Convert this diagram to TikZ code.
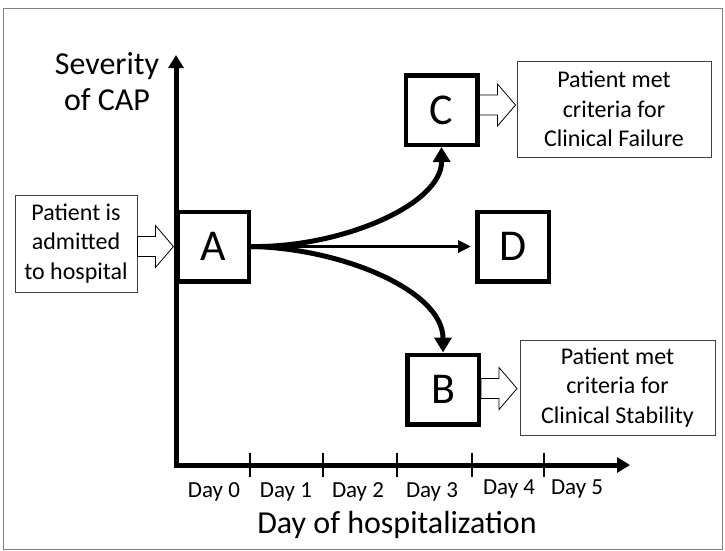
\documentclass[tikz,border=0pt]{standalone}
\usepackage{fontspec}
\setmainfont{Carlito}
\usetikzlibrary{arrows.meta,calc}
\begin{document}
\begin{tikzpicture}[x=1pt,y=-1pt,
  stage/.style={draw, line width=4.5pt, minimum width=71.5pt, minimum height=69.5pt,
    inner sep=0pt, font=\fontsize{44}{44}\selectfont},
  note/.style={draw=black!75, line width=0.9pt, align=center, inner sep=0pt,
    font=\fontsize{24}{29.5}\selectfont},
  axis/.style={line width=5pt, -{Triangle[length=13pt,width=15pt]}},
  branch/.style={line width=5pt, -{Triangle[length=15pt,width=17pt]}},
  straight/.style={line width=3.2pt, -{Triangle[length=13pt,width=12pt]}},
  tick/.style={line width=2.2pt},
  hollow/.style={draw=black, line width=0.8pt, fill=white, line join=miter},
  axislabel/.style={font=\fontsize{32}{36}\selectfont, align=center, inner sep=0pt},
  daylabel/.style={font=\fontsize{23}{23}\selectfont, inner sep=0pt, anchor=base},
]
% page area and thin outer frame
\useasboundingbox (0,0) rectangle (725,550);
\draw[black!50, line width=1pt] (3,8) rectangle (722.5,549);

% hollow block arrow starting at a point, pointing right
\newcommand\hollowarrow[1]{%
  \draw[hollow] (#1) ++(0,-10) -- ++(18,0) -- ++(0,-11) -- ++(18,21)
    -- ++(-18,21) -- ++(0,-11) -- ++(-18,0) -- cycle;}

% axes
\coordinate (O) at (176,465);
\coordinate (ytip) at (176,55);
\coordinate (xtip) at (630,465);
\draw[axis] ($(O)+(0,2.5)$) -- (ytip);
\draw[axis] ($(O)+(-2.5,0)$) -- (xtip);
\node[axislabel] (ylab) at (107,82) {Severity\\of CAP};
\node[axislabel, anchor=base] (xlab) at (397,533) {Day of hospitalization};

% day ticks and labels
\foreach \x/\n in {250/t1, 323/t2, 397/t3, 472/t4, 544/t5}{
  \coordinate (\n a) at (\x,453);
  \coordinate (\n b) at (\x,477);
  \draw[tick] (\n a) -- (\n b);
}
\node[daylabel] (d0) at (214,497) {Day 0};
\node[daylabel] (d1) at (286,497) {Day 1};
\node[daylabel] (d2) at (358,497) {Day 2};
\node[daylabel] (d3) at (432,497) {Day 3};
\node[daylabel] (d4) at (509,494) {Day 4};
\node[daylabel] (d5) at (577,494) {Day 5};

% stage boxes
\node[stage] (A) at (213,246.5) {A};
\node[stage] (C) at (441.5,110) {C};
\node[stage] (D) at (513,246.5) {D};
\node[stage] (B) at (443,389.5) {B};

% explanatory notes
\node[note, minimum width=122pt, minimum height=97pt] (adm) at (76,243.5)
  {Patient is\\admitted\\to hospital};
\node[note, minimum width=194pt, minimum height=96pt] (fail) at (614,109)
  {Patient met\\criteria for\\Clinical Failure};
\node[note, minimum width=195pt, minimum height=95pt] (stab) at (617.5,387.5)
  {Patient met\\criteria for\\Clinical Stability};

% hollow arrows into and out of the stages
\hollowarrow{adm.east |- A.west}
\hollowarrow{$(C.east)+(0,-5)$}
\hollowarrow{$(B.east)+(0,-1)$}

% transitions from A
\draw[straight] (A.east) -- ($(D.west)+(-4,0)$);
\draw[branch] (A.east) .. controls (340,248) and (442,205) .. (C.south);
\draw[branch] (A.east) .. controls (340,248) and (443,290) .. (B.north);
\end{tikzpicture}
\end{document}
